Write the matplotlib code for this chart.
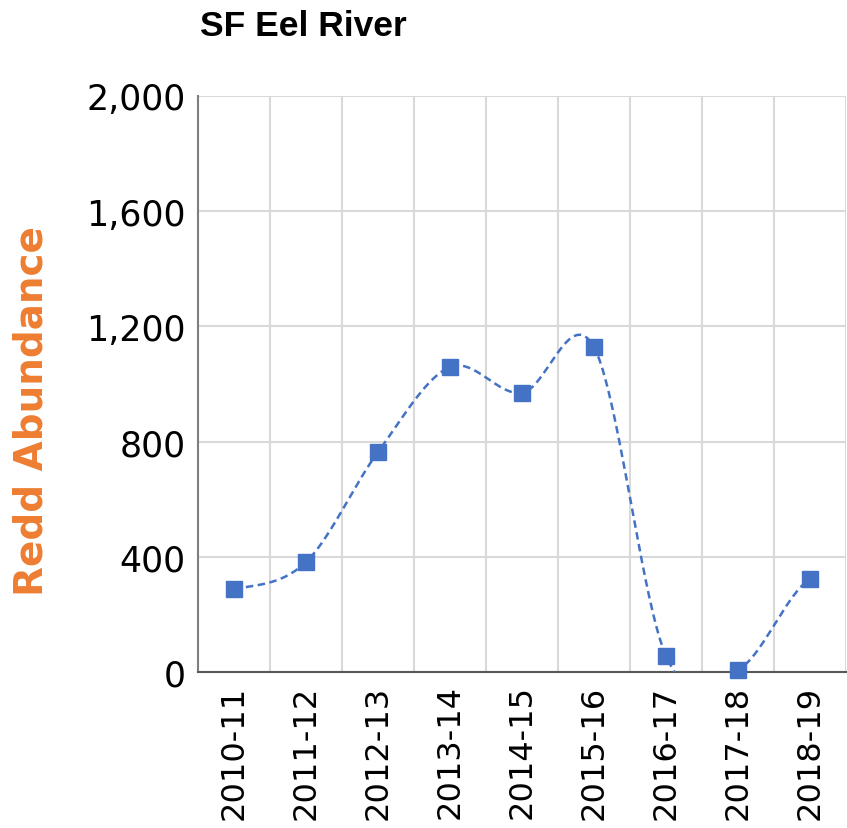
import numpy as np
import matplotlib.pyplot as plt
from matplotlib.ticker import FuncFormatter, FixedLocator

seasons = ['2010-11', '2011-12', '2012-13', '2013-14', '2014-15',
           '2015-16', '2016-17', '2017-18', '2018-19']
redds = [288, 382, 764, 1059, 969, 1128, 56, 7, 323]
y_ticks = [0, 400, 800, 1200, 1600, 2000]

blue = '#4472C4'
orange = '#ED7D31'
grid_col = '#D9D9D9'


def smooth(xs, ys, n=40):
    # catmull-rom style smoothing, like a spreadsheet "smoothed line"
    xs = np.asarray(xs, float)
    ys = np.asarray(ys, float)
    px = np.concatenate([[xs[0]], xs, [xs[-1]]])
    py = np.concatenate([[ys[0]], ys, [ys[-1]]])
    out_x, out_y = [], []
    t = np.linspace(0, 1, n)
    for i in range(1, len(px) - 2):
        m0 = (py[i + 1] - py[i - 1]) / 2
        m1 = (py[i + 2] - py[i]) / 2
        h00 = 2 * t**3 - 3 * t**2 + 1
        h10 = t**3 - 2 * t**2 + t
        h01 = -2 * t**3 + 3 * t**2
        h11 = t**3 - t**2
        out_y.append(h00 * py[i] + h10 * m0 + h01 * py[i + 1] + h11 * m1)
        out_x.append(px[i] + t * (px[i + 1] - px[i]))
    return np.concatenate(out_x), np.concatenate(out_y)


fig = plt.figure(figsize=(8.47, 8.29), dpi=100)
ax = fig.add_axes([198 / 847, 1 - 673 / 829, 648 / 847, 576 / 829])

x = np.arange(len(seasons))
sx, sy = smooth(x, redds)
ax.plot(sx, sy, color=blue, lw=1.8, dashes=(3, 1.8), zorder=3)
ax.plot(x, redds, 's', color=blue, markersize=11.5, clip_on=False, zorder=4)

ax.set_xlim(-0.5, len(seasons) - 0.5)
ax.set_ylim(0, 2000)
ax.set_yticks(y_ticks)
ax.yaxis.set_major_formatter(FuncFormatter(lambda v, p: '{:,.0f}'.format(v)))
ax.set_xticks(x)
ax.set_xticklabels(seasons, rotation=90)
ax.xaxis.set_minor_locator(FixedLocator(np.arange(0.5, len(seasons), 1)))
ax.tick_params(axis='both', which='both', length=0)
ax.tick_params(axis='x', pad=9, labelsize=23)
ax.tick_params(axis='y', pad=9, labelsize=25)
ax.grid(True, axis='y', which='major', color=grid_col, lw=1.5)
ax.grid(True, axis='x', which='minor', color=grid_col, lw=1.5)
ax.set_axisbelow(True)

ax.spines['top'].set_visible(False)
ax.spines['right'].set_visible(False)
ax.spines['left'].set_color('#7F7F7F')
ax.spines['left'].set_linewidth(1.5)
ax.spines['bottom'].set_color('#595959')
ax.spines['bottom'].set_linewidth(1.5)

fig.text(200 / 847, 1 - 36 / 829, 'SF Eel River', fontsize=25.5, fontweight='bold',
         family='Liberation Sans', va='baseline', ha='left')
fig.text(32 / 847, 1 - 411 / 829, 'Redd Abundance', fontsize=28, fontweight='bold',
         color=orange, rotation=90, ha='center', va='center')

fig.savefig('out.png', dpi=100)
